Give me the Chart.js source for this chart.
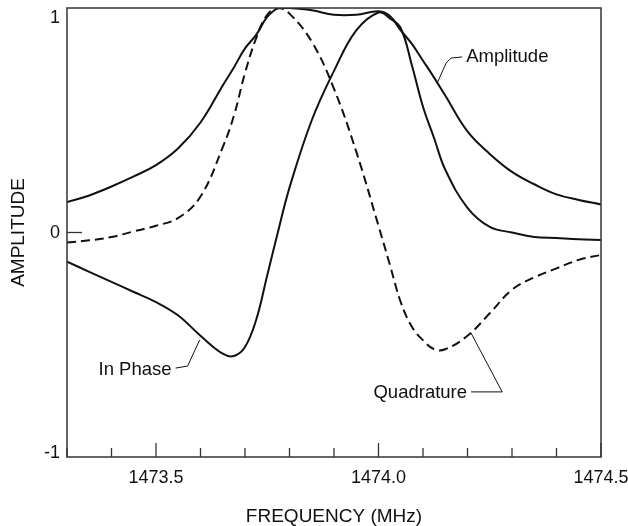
<!DOCTYPE html>
<html>
<head>
<meta charset="utf-8">
<script src="https://cdn.jsdelivr.net/npm/chart.js@4/dist/chart.umd.min.js"></script>
<style>
  html, body { margin: 0; padding: 0; background: #fff; }
  #wrap { width: 628px; height: 526px; position: relative; }
</style>
</head>
<body>
<div id="wrap"><canvas id="c" width="628" height="526"></canvas></div>
<script>
// ---- Data ----
const frequencies = [1473.30, 1473.35, 1473.40, 1473.45, 1473.50, 1473.55, 1473.60, 1473.65, 1473.675, 1473.70,
                     1473.725, 1473.75, 1473.775, 1473.80, 1473.85, 1473.90, 1473.95, 1474.00, 1474.025, 1474.05,
                     1474.075, 1474.10, 1474.125, 1474.15, 1474.20, 1474.25, 1474.30, 1474.35, 1474.40, 1474.45,
                     1474.50];
const amplitude  = [0.136, 0.165, 0.205, 0.25, 0.30, 0.375, 0.49, 0.655, 0.735, 0.82,
                    0.88, 0.96, 1.00, 1.00, 0.99, 0.97, 0.97, 0.985, 0.965, 0.90,
                    0.84, 0.765, 0.69, 0.61, 0.45, 0.35, 0.27, 0.215, 0.17, 0.145,
                    0.125];
const inPhase    = [-0.13, -0.175, -0.22, -0.265, -0.31, -0.37, -0.46, -0.54, -0.55, -0.51,
                    -0.39, -0.19, 0.01, 0.20, 0.50, 0.72, 0.90, 0.98, 0.955, 0.91,
                    0.745, 0.56, 0.42, 0.28, 0.11, 0.025, 0.00, -0.02, -0.025, -0.03,
                    -0.033];
const quadrature = [-0.045, -0.035, -0.02, 0.005, 0.03, 0.065, 0.16, 0.38, 0.52, 0.71,
                    0.865, 0.97, 1.00, 0.975, 0.85, 0.64, 0.36, 0.03, -0.14, -0.31,
                    -0.42, -0.48, -0.52, -0.52, -0.46, -0.36, -0.255, -0.20, -0.16, -0.122,
                    -0.10];
const xMin = 1473.3, xMax = 1474.5, xTickStep = 0.1;
const xTickLabels = ['1473.5', '1474.0', '1474.5'];
const yTickValues = [-1, 0, 1];
const yTickLabels = ['-1', '0', '1'];

// Curve annotations: label text, anchor (data coords), alignment, leader polyline (data coords)
const labelNames = ['Amplitude', 'In Phase', 'Quadrature'];
const labelAnchors = [[1474.197, 0.782, 'left'], [1473.535, -0.612, 'right'], [1474.199, -0.715, 'right']];
const labelLeaders = [
  [[1474.188, 0.782], [1474.163, 0.777], [1474.152, 0.755], [1474.132, 0.666]],
  [[1473.544, -0.604], [1473.571, -0.595], [1473.598, -0.479]],
  [[1474.208, -0.710], [1474.278, -0.710], [1474.208, -0.448]]
];

const FONT = '"Liberation Sans", Arial, Helvetica, sans-serif';
const INK = '#111';
const AXIS = '#333';

const toXY = arr => frequencies.map((f, i) => ({x: f, y: arr[i]}));

const framePlugin = {
  id: 'frame',
  afterDatasetsDraw(chart) {
    const {ctx, chartArea: a, scales: {x, y}} = chart;
    ctx.save();
    ctx.strokeStyle = AXIS;
    ctx.lineWidth = 1.5;
    ctx.strokeRect(a.left, a.top, a.right - a.left, a.bottom - a.top);
    // inward ticks on x axis
    ctx.lineWidth = 1.3;
    x.ticks.forEach(t => {
      const px = x.getPixelForValue(t.value);
      ctx.beginPath();
      ctx.moveTo(px, a.bottom);
      ctx.lineTo(px, a.bottom - (t.major ? 14 : 9));
      ctx.stroke();
    });
    // inward tick at y = 0
    const py0 = y.getPixelForValue(0);
    ctx.beginPath();
    ctx.moveTo(a.left, py0);
    ctx.lineTo(a.left + 15, py0);
    ctx.stroke();
    // y tick labels (kept inside the frame's height)
    ctx.fillStyle = INK;
    ctx.font = '18px ' + FONT;
    ctx.textAlign = 'right';
    ctx.textBaseline = 'middle';
    yTickValues.forEach((v, i) => {
      let py = y.getPixelForValue(v);
      py = Math.max(a.top + 9, Math.min(a.bottom - 5, py));
      ctx.fillText(yTickLabels[i], a.left - 7, py + 1);
    });
    // curve labels + leaders
    ctx.font = '18.5px ' + FONT;
    ctx.lineWidth = 1;
    ctx.strokeStyle = INK;
    labelNames.forEach((name, i) => {
      const [fx, fy, align] = labelAnchors[i];
      ctx.textAlign = align;
      ctx.fillText(name, x.getPixelForValue(fx), y.getPixelForValue(fy));
      ctx.beginPath();
      labelLeaders[i].forEach((p, j) => {
        const px = x.getPixelForValue(p[0]), py = y.getPixelForValue(p[1]);
        if (j === 0) ctx.moveTo(px, py); else ctx.lineTo(px, py);
      });
      ctx.stroke();
    });
    ctx.restore();
  }
};

const lineStyle = {borderColor: INK, borderWidth: 2, pointRadius: 0, tension: 0.4, fill: false};

new Chart(document.getElementById('c'), {
  type: 'line',
  data: {
    datasets: [
      Object.assign({label: 'Amplitude', data: toXY(amplitude)}, lineStyle),
      Object.assign({label: 'In Phase', data: toXY(inPhase)}, lineStyle),
      Object.assign({label: 'Quadrature', data: toXY(quadrature), borderDash: [9, 5]}, lineStyle)
    ]
  },
  options: {
    responsive: false,
    animation: false,
    layout: {padding: {top: 8, right: 27, left: 0, bottom: 0}},
    plugins: {legend: {display: false}, tooltip: {enabled: false}},
    elements: {line: {borderCapStyle: 'butt'}},
    scales: {
      x: {
        type: 'linear', min: xMin, max: xMax,
        afterBuildTicks(scale) {
          const ticks = [];
          const n = Math.round((xMax - xMin) / xTickStep);
          for (let i = 0; i <= n; i++) {
            const v = +(xMin + i * xTickStep).toFixed(2);
            ticks.push({value: v, major: xTickLabels.includes(v.toFixed(1))});
          }
          scale.ticks = ticks;
        },
        afterFit(scale) { scale.height = 69; scale.paddingLeft = 0; scale.paddingRight = 0; },
        grid: {display: false, drawTicks: false},
        border: {display: false},
        ticks: {
          autoSkip: false, maxRotation: 0, padding: 10, color: INK,
          font: {family: FONT, size: 18},
          callback(v) { const s = (+v).toFixed(1); return xTickLabels.includes(s) ? s : ''; }
        },
        title: {display: true, text: 'FREQUENCY (MHz)', color: INK, font: {family: FONT, size: 19, lineHeight: 1}, padding: {top: 0, bottom: 0}}
      },
      y: {
        type: 'linear', min: -1, max: 1,
        afterFit(scale) { scale.width = 67; },
        grid: {display: false, drawTicks: false},
        border: {display: false},
        ticks: {display: false, stepSize: 1},
        title: {display: true, text: 'AMPLITUDE', color: INK, font: {family: FONT, size: 19, lineHeight: 1}, padding: {top: 9, bottom: 0}}
      }
    }
  },
  plugins: [framePlugin]
});
</script>
</body>
</html>
